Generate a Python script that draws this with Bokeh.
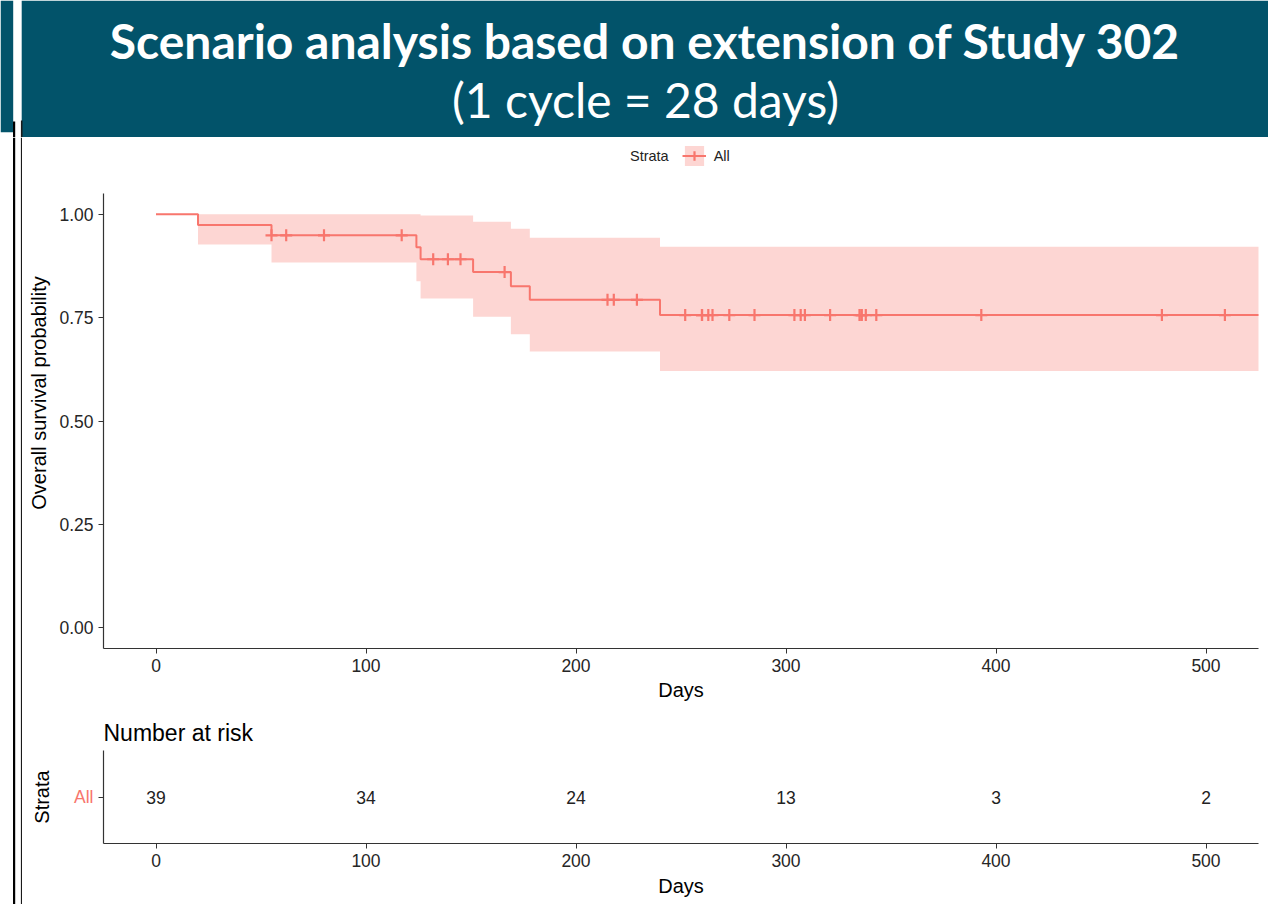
from bokeh.plotting import figure
from bokeh.layouts import row, column
from bokeh.models import (Range1d, FactorRange, FixedTicker, Legend, LegendItem,
                          PrintfTickFormatter)
from bokeh.core.properties import value
from bokeh.embed import file_html
from bokeh.resources import INLINE
import numpy as np

# ---------------- data ----------------
title_line1 = "Scenario analysis based on extension of Study 302"
title_line2 = "(1 cycle = 28 days)"
legend_title = "Strata"
strata = ["All"]

step_times = [0, 20, 55, 124, 126, 151, 169, 178, 240]
surv_prob = [1.0, 0.974, 0.949, 0.920, 0.891, 0.860, 0.826, 0.793, 0.756]
ci_upper = [1.0, 1.0, 1.0, 1.0, 0.997, 0.982, 0.965, 0.943, 0.921]
ci_lower = [1.0, 0.927, 0.883, 0.838, 0.796, 0.752, 0.710, 0.668, 0.621]
last_followup = 545

censor_times = [55, 62, 80, 117, 132, 139, 145, 166, 215, 218, 229,
                252, 260, 260, 263, 265, 273, 285, 304, 307, 309, 321,
                335, 336, 336, 338, 343, 393, 479, 509]

risk_times = [0, 100, 200, 300, 400, 500]
risk_counts = [39, 34, 24, 13, 3, 2]

x_ticks = [0, 100, 200, 300, 400, 500]
y_ticks = [0.0, 0.25, 0.5, 0.75, 1.0]

# ---------------- styles ----------------
CURVE = "#F8766D"
TEAL = "#02536A"
AXIS = "#333333"
TICKTXT = "#262626"
FONT = "Liberation Sans"

step_x = step_times + [last_followup]
step_y = surv_prob + [surv_prob[-1]]
band_lo = ci_lower + [ci_lower[-1]]
band_hi = ci_upper + [ci_upper[-1]]
idx = np.searchsorted(step_times, censor_times, side="right") - 1
censor_y = [surv_prob[i] for i in idx]

# y scale: 455 px frame for -0.05..1.05, plus 56 px headroom for the legend
Y_LO, Y_HI = -0.05, 1.05
Y_TOP = Y_HI + 56 * (Y_HI - Y_LO) / 455


def style_axes(fig):
    for ax in fig.axis:
        ax.axis_line_color = AXIS
        ax.axis_line_width = 1.2
        ax.major_tick_line_color = AXIS
        ax.major_tick_out = 5
        ax.major_tick_in = 0
        ax.minor_tick_line_color = None
        ax.major_label_text_font = FONT
        ax.major_label_text_font_size = "17.5px"
        ax.major_label_text_color = TICKTXT
        ax.axis_label_text_font = FONT
        ax.axis_label_text_font_style = "normal"
        ax.axis_label_text_color = "black"
        ax.axis_label_text_font_size = "20px"
    fig.grid.visible = False
    fig.outline_line_color = None


# ---------------- header (incl. left slide strip top) ----------------
head = figure(width=1268, height=137, x_range=Range1d(0, 1268), y_range=Range1d(137, 0),
              x_axis_type=None, y_axis_type=None, toolbar_location=None,
              output_backend="svg", min_border=0, outline_line_color=None,
              background_fill_color="white", border_fill_color="white")
head.quad(left=[0], right=[12.7], top=[0], bottom=[131.7], color=TEAL, line_color=None)
head.quad(left=[21.2], right=[1268], top=[0], bottom=[137], color=TEAL, line_color=None)
head.segment(x0=[13.6], y0=[121], x1=[13.6], y1=[137], line_color="black", line_width=2.2)
head.segment(x0=[21.2], y0=[120], x1=[21.2], y1=[137], line_color="#1a1a1a", line_width=1.6)
head.text(x=[645], y=[40], text=[title_line1], text_font=value("Lato"),
          text_font_style="bold", text_font_size="48px", text_color="white",
          text_align="center", text_baseline="middle")
head.text(x=[645], y=[99], text=[title_line2], text_font=value("Lato"),
          text_font_style="normal", text_font_size="48px", text_color="white",
          text_align="center", text_baseline="middle")

# ---------------- left slide strip (below header) ----------------
strip = figure(width=22, height=767, x_range=Range1d(0, 22), y_range=Range1d(767, 0),
               x_axis_type=None, y_axis_type=None, toolbar_location=None,
               output_backend="svg", min_border=0, outline_line_color=None)
strip.segment(x0=[13.6], y0=[0], x1=[13.6], y1=[767], line_color="black", line_width=2.2)
strip.segment(x0=[21.2], y0=[0], x1=[21.2], y1=[767], line_color="#1a1a1a", line_width=1.6)

# ---------------- KM plot ----------------
p = figure(frame_width=1155, frame_height=511,
           x_range=Range1d(-25, 525), y_range=Range1d(Y_LO, Y_TOP),
           toolbar_location=None, output_backend="svg",
           min_border_left=81, min_border_right=10, min_border_top=0, min_border_bottom=64)
band = p.varea_step(x=step_x, y1=band_lo, y2=band_hi, step_mode="after",
                    fill_color=CURVE, fill_alpha=0.3)
line = p.step(x=step_x, y=step_y, mode="after", line_color=CURVE, line_width=2)
pts = p.scatter(x=censor_times, y=censor_y, marker="cross", size=12,
                line_color=CURVE, line_width=2.2)
p.xaxis.ticker = FixedTicker(ticks=x_ticks)
p.yaxis.ticker = FixedTicker(ticks=y_ticks)
p.yaxis.bounds = (Y_LO, Y_HI)
p.yaxis.formatter = PrintfTickFormatter(format="%.2f")
p.xaxis.axis_label = "Days"
p.yaxis.axis_label = "Overall survival probability"
style_axes(p)
p.xaxis.axis_label_standoff = 4
p.yaxis.axis_label_standoff = 6

legend = Legend(items=[LegendItem(label=legend_title, renderers=[]),
                       LegendItem(label=strata[0], renderers=[band, line, pts])],
                location=(495, 480), orientation="horizontal", spacing=13,
                label_text_font=FONT, label_text_font_size="14.5px",
                label_text_color="#222222", label_standoff=8,
                glyph_width=24, glyph_height=25, padding=0, margin=0,
                background_fill_alpha=0, border_line_alpha=0)
p.add_layout(legend, "center")

# ---------------- risk table ----------------
r = figure(frame_width=1155, frame_height=93,
           x_range=Range1d(-25, 525), y_range=FactorRange(factors=strata),
           toolbar_location=None, output_backend="svg",
           min_border_left=81, min_border_right=10, min_border_top=38, min_border_bottom=61)
r.text(x=risk_times, y=strata * len(risk_times), text=[str(c) for c in risk_counts],
       text_font=value(FONT), text_font_size="17.5px", text_color="#222222",
       text_align="center", text_baseline="middle")
r.xaxis.ticker = FixedTicker(ticks=x_ticks)
r.xaxis.axis_label = "Days"
r.yaxis.axis_label = "Strata"
style_axes(r)
r.yaxis.major_label_text_color = CURVE
r.xaxis.axis_label_standoff = 5
r.yaxis.axis_label_standoff = 18
r.title.text = "Number at risk"
r.title.text_font = FONT
r.title.text_font_style = "normal"
r.title.text_font_size = "23px"
r.title.text_color = "black"
r.title.align = "left"
r.title.standoff = 10

layout = column(head, row(strip, column(p, r)))
open("out.html", "w").write(file_html(layout, INLINE))
